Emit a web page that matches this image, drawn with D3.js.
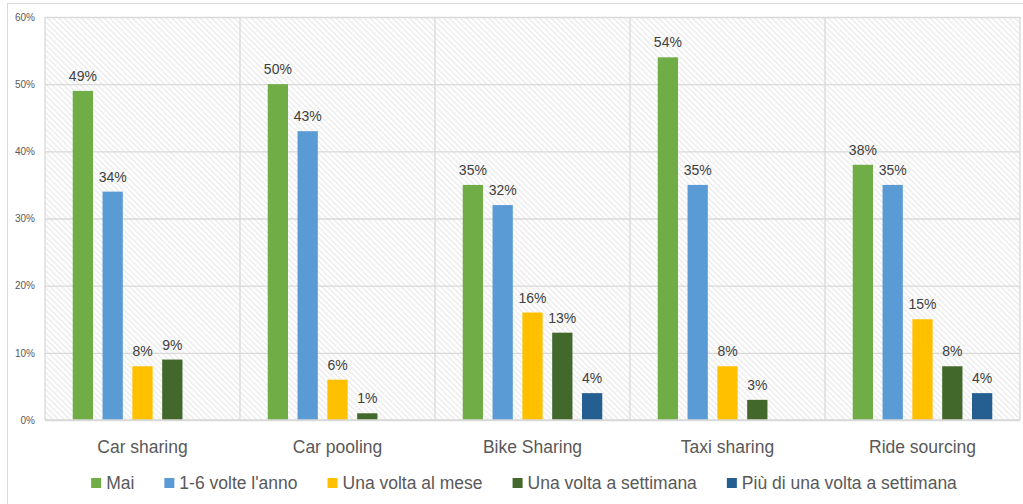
<!DOCTYPE html>
<html>
<head>
<meta charset="utf-8">
<script src="https://cdn.jsdelivr.net/npm/d3@7"></script>
<style>
  body { margin: 0; background: #fff; }
  svg { display: block; font-family: "Liberation Sans", Arial, sans-serif; }
  .axis text { fill: #595959; }
</style>
</head>
<body>
<svg width="1023" height="504"></svg>
<script>
// data (percent)
const categories = ["Car sharing", "Car pooling", "Bike Sharing", "Taxi sharing", "Ride sourcing"];
const seriesNames = ["Mai", "1-6 volte l'anno", "Una volta al mese", "Una volta a settimana", "Più di una volta a settimana"];
const mai = [49, 50, 35, 54, 38];
const volteAnno = [34, 43, 32, 35, 35];
const voltaMese = [8, 6, 16, 8, 15];
const voltaSettimana = [9, 1, 13, 3, 8];
const piuSettimana = [null, null, 4, null, 4];
const colors = ["#70AD47", "#5B9BD5", "#FFC000", "#43682B", "#255E91"];

const seriesValues = [mai, volteAnno, voltaMese, voltaSettimana, piuSettimana];

var svg = d3.select("svg");
var margin = { left: 45, right: 1020, top: 17, bottom: 420 };

// pattern for plot background
var defs = svg.append("defs");
var pat = defs.append("pattern")
  .attr("id", "hatch")
  .attr("patternUnits", "userSpaceOnUse")
  .attr("width", 4)
  .attr("height", 4)
  .attr("patternTransform", "rotate(-45)");
pat.append("rect").attr("width", 4).attr("height", 4).attr("fill", "#ffffff");
pat.append("rect").attr("width", 1.5).attr("height", 4).attr("fill", "#ececec");

// outer chart border
svg.append("rect")
  .attr("x", 7.5).attr("y", 3.5)
  .attr("width", 1030).attr("height", 520)
  .attr("fill", "none").attr("stroke", "#d9d9d9");

var x0 = d3.scaleBand().domain(categories).range([margin.left, margin.right]).padding(0);
var x1 = d3.scaleBand().domain(seriesNames).range([0, x0.bandwidth()])
  .paddingInner(0.32).paddingOuter(0.93);
var y = d3.scaleLinear().domain([0, 60]).range([margin.bottom, margin.top]);

svg.append("rect")
  .attr("x", margin.left).attr("y", margin.top)
  .attr("width", margin.right - margin.left)
  .attr("height", margin.bottom - margin.top)
  .attr("fill", "url(#hatch)");

// gridlines + y labels
var yAxis = svg.append("g")
  .attr("class", "axis")
  .attr("transform", `translate(${margin.left},0)`)
  .call(d3.axisLeft(y).tickValues(d3.range(0, 61, 10))
    .tickSize(-(margin.right - margin.left))
    .tickPadding(10)
    .tickFormat((d) => d + "%"));
yAxis.select(".domain").remove();
yAxis.selectAll("line").attr("stroke", "#d9d9d9").attr("stroke-width", 1.3);
yAxis.selectAll("text").attr("font-size", "10px");

// vertical separators
svg.append("g")
  .selectAll("line")
  .data(categories.concat(["end"]))
  .enter()
  .append("line")
  .attr("x1", (d) => (d === "end" ? margin.right : x0(d)))
  .attr("x2", (d) => (d === "end" ? margin.right : x0(d)))
  .attr("y1", margin.top)
  .attr("y2", margin.bottom)
  .attr("stroke", "#d9d9d9")
  .attr("stroke-width", 1.3);

// bars
var rows = [];
categories.forEach((c, i) => {
  seriesNames.forEach((s, j) => {
    var v = seriesValues[j][i];
    if (v !== null) rows.push({ cat: c, series: s, value: v, color: colors[j] });
  });
});

svg.append("g")
  .selectAll("rect")
  .data(rows)
  .enter()
  .append("rect")
  .attr("x", (d) => x0(d.cat) + x1(d.series))
  .attr("y", (d) => y(d.value))
  .attr("width", x1.bandwidth())
  .attr("height", (d) => y(0) - y(d.value))
  .attr("fill", (d) => d.color);

svg.append("g")
  .selectAll("text")
  .data(rows)
  .enter()
  .append("text")
  .attr("x", (d) => x0(d.cat) + x1(d.series) + x1.bandwidth() / 2)
  .attr("y", (d) => y(d.value) - 10)
  .attr("text-anchor", "middle")
  .attr("font-size", "14px")
  .attr("fill", "#404040")
  .text((d) => d.value + "%");

// x axis line
svg.append("line")
  .attr("x1", margin.left).attr("x2", margin.right)
  .attr("y1", margin.bottom).attr("y2", margin.bottom)
  .attr("stroke", "#d9d9d9").attr("stroke-width", 1.3);

// category labels
svg.append("g")
  .selectAll("text")
  .data(categories)
  .enter()
  .append("text")
  .attr("x", (d) => x0(d) + x0.bandwidth() / 2)
  .attr("y", 453)
  .attr("text-anchor", "middle")
  .attr("font-size", "17.5px")
  .attr("fill", "#595959")
  .text((d) => d);

// legend
var legend = svg.append("g");
var items = legend.selectAll("g")
  .data(seriesNames)
  .enter()
  .append("g");
items.append("rect")
  .attr("width", 10).attr("height", 10)
  .attr("y", 478)
  .attr("fill", (d, i) => colors[i]);
items.append("text")
  .attr("x", 15)
  .attr("y", 489)
  .attr("font-size", "17.5px")
  .attr("fill", "#595959")
  .text((d) => d);

var gap = 30;
var widths = [];
items.each(function () {
  widths.push(15 + this.querySelector("text").getComputedTextLength());
});
var total = d3.sum(widths) + gap * (widths.length - 1);
var xpos = 524 - total / 2;
items.each(function (d, i) {
  d3.select(this).attr("transform", `translate(${xpos},0)`);
  xpos += widths[i] + gap;
});
</script>
</body>
</html>
